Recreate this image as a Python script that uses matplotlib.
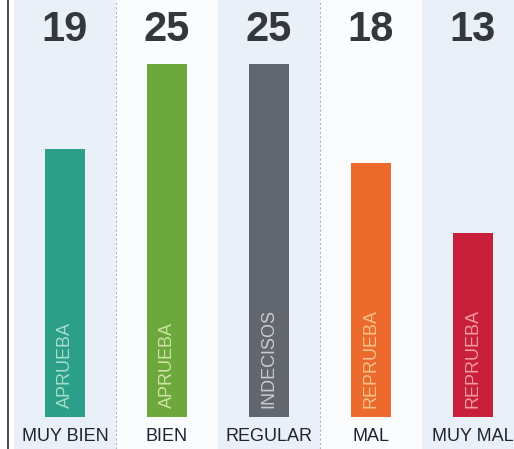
import numpy as np
import matplotlib.pyplot as plt

# datos
categorias = ["MUY BIEN", "BIEN", "REGULAR", "MAL", "MUY MAL"]
valores = [19, 25, 25, 18, 13]
etiquetas = ["APRUEBA", "APRUEBA", "INDECISOS", "REPRUEBA", "REPRUEBA"]

colores = ["#2b9f88", "#6ca83c", "#61666f", "#ec6a2b", "#c8203a"]
colores_texto = ["#a6dccb", "#cfe3a4", "#c9ccd3", "#f7c28c", "#f19aa4"]
fondos = ["#eaf0f8", "#fbfcfd", "#eaf0f8", "#fbfcfd", "#eaf0f8"]

plt.rcParams['font.family'] = ['Liberation Sans', 'DejaVu Sans']

fig = plt.figure(figsize=(5.14, 4.49), dpi=100)
ax = fig.add_axes([0, 0, 1, 1])
ax.set_xlim(-0.637, 4.402)
ax.set_ylim(-2.27, 29.53)
ax.axis('off')

x = np.arange(len(categorias))

# columnas de fondo
for i in x:
    ax.axvspan(i - 0.5, i + 0.5, color=fondos[i], zorder=0, lw=0)
for i in [0.5, 2.5]:
    ax.axvline(i, color="#b0b4bc", lw=0.8, ls=(0, (2, 2)), zorder=1)
ax.axvline(-0.56, color="#3a3d45", lw=1.3, zorder=1)

ax.bar(x, valores, width=0.40, color=colores, zorder=2)

for i, v in enumerate(valores):
    ax.text(i, 27.4, str(v), ha='center', va='center', fontsize=30,
            fontweight='bold', color="#34373d")
    ax.text(i, 0.6, etiquetas[i], ha='center', va='bottom', rotation=90,
            fontsize=13, color=colores_texto[i], zorder=3)
    ax.text(i, -1.35, categorias[i], ha='center', va='center', fontsize=13,
            color="#1f2233")

fig.savefig("out.png", dpi=100)
